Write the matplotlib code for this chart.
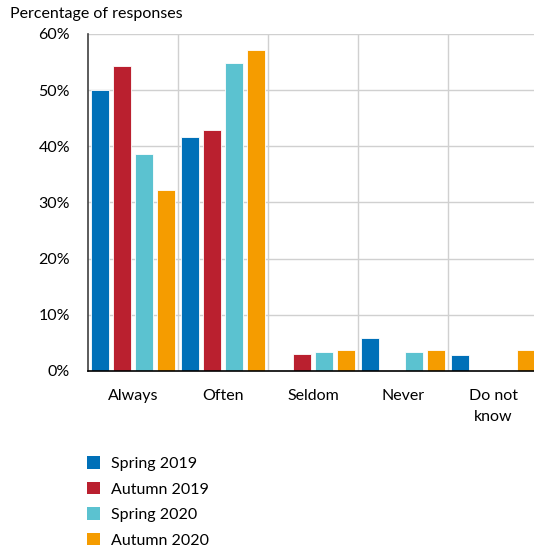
import matplotlib
matplotlib.use("Agg")
import matplotlib.pyplot as plt
import numpy as np
from matplotlib.patches import Patch

# data
categories = ["Always", "Often", "Seldom", "Never", "Do not\nknow"]
series = ["Spring 2019", "Autumn 2019", "Spring 2020", "Autumn 2020"]
spring_2019 = [50.0, 41.6, 0.0, 5.8, 2.8]
autumn_2019 = [54.3, 42.9, 3.0, 0.0, 0.0]
spring_2020 = [38.6, 54.8, 3.3, 3.3, 0.0]
autumn_2020 = [32.2, 57.1, 3.7, 3.7, 3.7]
colors = ["#0070B8", "#BA202F", "#5BC2D0", "#F59C00"]

plt.rcParams['font.family'] = ['Lato', 'DejaVu Sans']

fig = plt.figure(figsize=(5.34, 5.51), dpi=100)
ax = fig.add_axes([0.1648, 0.3267, 0.8427, 0.6116])

x = np.arange(len(categories))
width = 0.2
offsets = [-0.367, -0.122, 0.122, 0.367]
for vals, off, col in zip([spring_2019, autumn_2019, spring_2020, autumn_2020], offsets, colors):
    ax.bar(x + off, vals, width, color=col, edgecolor='white', linewidth=0.6, zorder=3)

ax.set_xlim(-0.5, 4.5)
ax.set_ylim(0, 60)
ax.set_yticks(np.arange(0, 61, 10))
ax.set_yticklabels([f"{v}%" for v in range(0, 61, 10)], fontsize=11.5)
ax.set_xticks(x)
ax.set_xticklabels(categories, fontsize=11.5, linespacing=1.6, va='top')

# vertical separators between categories
ax.set_xticks(np.arange(0.5, 4.5, 1), minor=True)
ax.grid(True, which='minor', axis='x', color='#D0D0D0', linewidth=1, zorder=0)
ax.grid(True, which='major', axis='y', color='#D0D0D0', linewidth=1, zorder=0)
ax.tick_params(axis='both', which='both', length=0)
ax.tick_params(axis='x', pad=13)
ax.tick_params(axis='y', pad=13)

for s in ['top', 'right']:
    ax.spines[s].set_visible(False)
ax.spines['left'].set_color('#404040')
ax.spines['left'].set_linewidth(1.2)
ax.spines['bottom'].set_color('black')
ax.spines['bottom'].set_linewidth(1.2)
ax.spines['bottom'].set_zorder(4)

fig.text(10 / 534, 1 - 14 / 551, "Percentage of responses", fontsize=11.5, va='center', ha='left')

handles = [Patch(facecolor=c, edgecolor='none') for c in colors]
fig.legend(handles, series, loc='upper left', bbox_to_anchor=(73 / 534, 1 - 442 / 551),
           frameon=False, fontsize=11.5, handlelength=0.8, handleheight=0.8,
           handletextpad=0.7, labelspacing=0.68)

fig.savefig("out.png", dpi=100)
